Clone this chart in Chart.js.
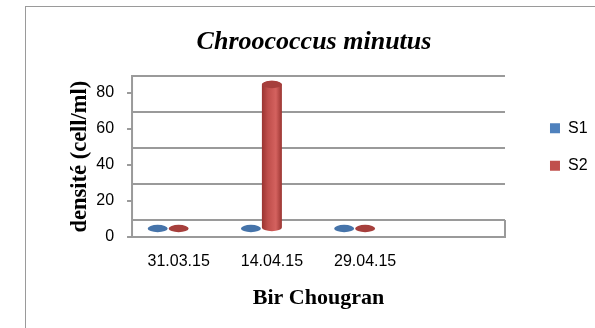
<!DOCTYPE html>
<html>
<head>
<meta charset="utf-8">
<script src="https://cdn.jsdelivr.net/npm/chart.js@4/dist/chart.umd.min.js"></script>
<style>
html,body{margin:0;padding:0;background:#fff;overflow:hidden}
#wrap{position:relative;width:595px;height:328px;overflow:hidden;background:#fff}
#frame{position:absolute;left:25px;top:6px;width:620px;height:400px;border:1px solid #9a9a9a}
#c{position:absolute;left:0;top:0}
</style>
</head>
<body>
<div id="wrap"><div id="frame"></div><canvas id="c" width="595" height="328"></canvas></div>
<script>
// ---- data ----
const categories = ['31.03.15', '14.04.15', '29.04.15', ''];
const seriesNames = ['S1', 'S2'];
const s1Values = [0, 0, 0, null];
const s2Values = [0, 80, 0, null];
const yTicks = [0, 20, 40, 60, 80];

const chartTitle = 'Chroococcus minutus';
const yTitle = 'densité (cell/ml)';
const xTitle = 'Bir Chougran';

// ---- styles ----
const DEPTH = 17;
const GRID = '#9a9a9a';
const palette = [
  {legend: '#4F81BD', top: '#4674aa', edge: '#3a6291', mid: '#4F81BD', light: '#6893c8'},
  {legend: '#C0504D', top: '#a63f3c', edge: '#9a3431', mid: '#bf4e4b', light: '#d4625f'}
];

function drawCylinder(ctx, cx, rx, ry, yTop, yBase, c) {
  if (yBase - yTop > 0.5) {
    const g = ctx.createLinearGradient(cx - rx, 0, cx + rx, 0);
    g.addColorStop(0, c.edge);
    g.addColorStop(0.3, c.mid);
    g.addColorStop(0.7, c.light);
    g.addColorStop(1, c.edge);
    ctx.fillStyle = g;
    ctx.beginPath();
    ctx.moveTo(cx - rx, yTop);
    ctx.lineTo(cx - rx, yBase);
    ctx.ellipse(cx, yBase, rx, ry, 0, Math.PI, 0, true);
    ctx.lineTo(cx + rx, yTop);
    ctx.ellipse(cx, yTop, rx, ry, 0, 0, Math.PI, true);
    ctx.closePath();
    ctx.fill();
  }
  ctx.fillStyle = c.top;
  ctx.beginPath();
  ctx.ellipse(cx, yTop, rx, ry, 0, 0, Math.PI * 2);
  ctx.fill();
}

const wallPlugin = {
  id: 'wall3d',
  afterLayout(chart) {
    const lg = chart.legend;
    if (lg) {
      lg.left += 23.5; lg.right += 23.5;
      lg.top += 5.8; lg.bottom += 5.8;
    }
  },
  beforeDatasetsDraw(chart) {
    const {ctx, chartArea: a, scales: {y}} = chart;
    ctx.save();
    ctx.strokeStyle = GRID;
    ctx.lineWidth = 2;
    // back wall gridlines
    yTicks.forEach(v => {
      const py = Math.round(y.getPixelForValue(v) - DEPTH);
      ctx.beginPath(); ctx.moveTo(a.left, py); ctx.lineTo(a.right, py); ctx.stroke();
    });
    // left wall
    ctx.beginPath();
    ctx.moveTo(a.left, Math.round(y.getPixelForValue(yTicks[yTicks.length - 1]) - DEPTH) - 1);
    ctx.lineTo(a.left, a.bottom + 1);
    ctx.stroke();
    // floor front edge + right edge
    ctx.beginPath();
    ctx.moveTo(a.left, a.bottom);
    ctx.lineTo(a.right, a.bottom);
    ctx.lineTo(a.right, Math.round(a.bottom - DEPTH));
    ctx.stroke();
    // cylinders
    chart.data.datasets.forEach((ds, di) => {
      const meta = chart.getDatasetMeta(di);
      meta.data.forEach((bar, i) => {
        if (ds.data[i] === null || ds.data[i] === undefined) return;
        const p = bar.getProps(['x', 'y', 'base', 'width'], true);
        const cx = p.x - p.width / 2;
        const rx = p.width / 2 - 0.5;
        drawCylinder(ctx, cx, rx, 3.7, p.y - DEPTH / 2, p.base - DEPTH / 2, palette[di]);
      });
    });
    ctx.restore();
    return false;
  }
};

Chart.defaults.font.family = "'Liberation Sans', Arial, sans-serif";
Chart.defaults.color = '#000';

new Chart(document.getElementById('c'), {
  type: 'bar',
  data: {
    labels: categories,
    datasets: [
      {label: seriesNames[0], data: s1Values, backgroundColor: palette[0].legend},
      {label: seriesNames[1], data: s2Values, backgroundColor: palette[1].legend}
    ]
  },
  options: {
    responsive: false,
    animation: false,
    devicePixelRatio: 1,
    events: [],
    categoryPercentage: 0.45,
    barPercentage: 1.0,
    layout: {padding: {left: 53.94, right: 20.94, top: 0, bottom: 0}},
    plugins: {
      title: {
        display: true,
        text: chartTitle,
        color: '#000',
        font: {family: "'Liberation Serif', 'Times New Roman', serif", size: 26, weight: 'bold', style: 'italic'},
        padding: {top: 26.2, bottom: 35.6}
      },
      legend: {
        display: true,
        position: 'right',
        align: 'start',
        fullSize: false,
        labels: {
          boxWidth: 10,
          boxHeight: 10,
          padding: 21.5,
          color: '#000',
          font: {size: 16}
        }
      },
      tooltip: {enabled: false}
    },
    scales: {
      x: {
        grid: {display: false, drawTicks: false, tickLength: 0},
        border: {display: false},
        ticks: {padding: 15, font: {size: 16}, color: '#000', maxRotation: 0, autoSkip: false},
        title: {
          display: true,
          text: xTitle,
          color: '#000',
          font: {family: "'Liberation Serif', 'Times New Roman', serif", size: 22, weight: 'bold'},
          padding: {top: -1.4, bottom: 16.8}
        }
      },
      y: {
        min: yTicks[0],
        max: yTicks[yTicks.length - 1],
        ticks: {stepSize: yTicks[1] - yTicks[0], padding: 13, font: {size: 16}, color: '#000'},
        grid: {drawOnChartArea: false, drawTicks: true, tickLength: 5, color: GRID, lineWidth: 2},
        border: {display: false},
        title: {
          display: true,
          text: '   ' + yTitle,
          color: '#000',
          font: {family: "'Liberation Serif', 'Times New Roman', serif", size: 22.5, weight: 'bold'},
          padding: {top: 12.6, bottom: -10.3}
        }
      }
    }
  },
  plugins: [wallPlugin]
});
</script>
</body>
</html>
